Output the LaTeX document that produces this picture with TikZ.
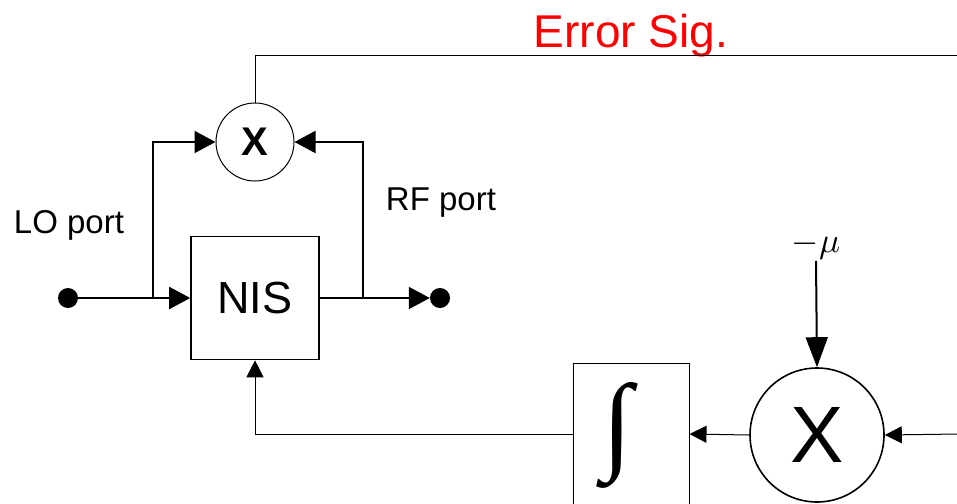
\documentclass[tikz,border=0pt]{standalone}
\usepackage{fontspec}
\setmainfont{Liberation Sans}
\newfontfamily\intfont{Liberation Serif}
\usetikzlibrary{arrows.meta}
\begin{document}
\begin{tikzpicture}[x=1pt,y=-1pt,
  fs/.style={font=\fontsize{#1}{#1}\selectfont},
  thickln/.style={line width=2pt},
  thinln/.style={line width=1pt},
  bigtip/.style={-{Triangle[length=21pt,width=22pt]}},
  smalltip/.style={-{Triangle[length=17pt,width=17pt]}},
  dot/.style={circle,fill=black,minimum size=20pt,inner sep=0pt},
  blk/.style={draw,rectangle,inner sep=0pt}]
\clip (0,0) rectangle (957,503);
\fill[white] (0,0) rectangle (957,503);
% nodes
\node[circle,draw,thinln,minimum size=78pt,inner sep=0pt] (mix) at (255,142) {\fontsize{40}{40}\selectfont\bfseries X};
\node[blk,line width=1.6pt,minimum width=128pt,minimum height=123pt,fs=45] (nis) at (255,298) {NIS};
\node[dot] (lo) at (68,298) {};
\node[dot] (out) at (440,298) {};
\node[circle,draw,line width=1.6pt,minimum size=134pt,inner sep=0pt,fs=80] (bigx) at (817,435) {X};
\node[blk,thinln,minimum width=116pt,minimum height=142pt] (integ) at (631,434) {};
\node[inner sep=0pt] (intsym) at (617,435) {\resizebox*{30pt}{106pt}{\intfont\fontsize{60}{60}\selectfont ∫}};
\node[inner sep=1pt] (mu) at (816,246) {\scalebox{3.5}{$-\mu$}};
\node[fs=33,anchor=base,inner sep=0pt] (lolab) at (69,233) {LO port};
\node[fs=33,anchor=base,inner sep=0pt] (rflab) at (441,210) {RF port};
\node[fs=46,anchor=base,inner sep=0pt,text=red] (err) at (631,48) {Error Sig.};
\coordinate (b1) at (153,298);
\coordinate (b2) at (363,298);
\coordinate (etop) at (960,56);
\coordinate (eright) at (960,434);
% connectors
\draw[thickln,bigtip] (lo.center) -- (nis.west);
\draw[thickln,bigtip] (b1) |- (mix.west);
\draw[thickln,bigtip] (nis.east) -- (out.west);
\draw[thickln,bigtip] (b2) |- (mix.east);
\draw[thinln] (mix.north) |- (etop);
\draw[thinln,smalltip] (eright) -- (bigx.east);
\draw[thinln,smalltip] (bigx.west) -- (integ.east);
\draw[thinln,smalltip] (integ.west) -| (nis.south);
\draw[thickln,-{Triangle[length=30pt,width=22pt]}] (mu.south) -- (bigx.north);
\end{tikzpicture}
\end{document}
